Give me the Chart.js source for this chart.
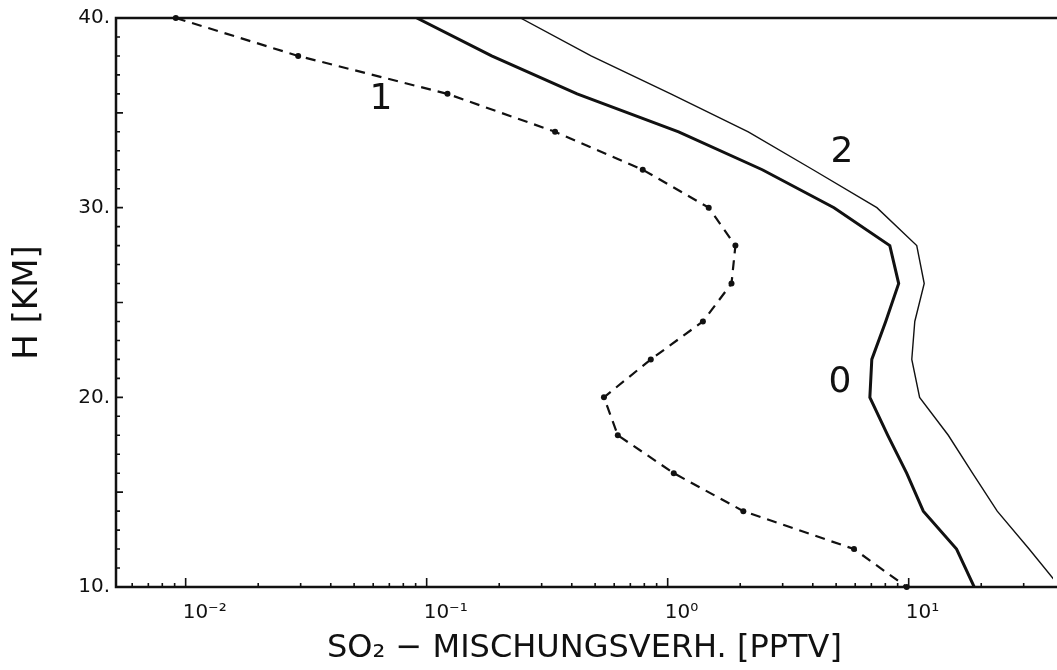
<!DOCTYPE html>
<html>
<head>
<meta charset="utf-8">
<script src="https://cdn.jsdelivr.net/npm/chart.js@4.4.1/dist/chart.umd.min.js"></script>
<style>
  html, body { margin: 0; padding: 0; background: #fff; overflow: hidden; }
</style>
</head>
<body>
<canvas id="so2Chart" width="1057" height="670"></canvas>
<script>
// ── DATA ──
// altitude levels [km], shared by all three profiles
const heights = [40, 38, 36, 34, 32, 30, 28, 26, 24, 22, 20, 18, 16, 14, 12, 10];
// SO2 mixing ratio [pptv]
const so2Curve0 = [0.091, 0.186, 0.421, 1.11, 2.47, 4.90, 8.35, 9.09, 8.03, 7.03, 6.90, 8.19, 9.81, 11.5, 15.8, 18.7];
const so2Curve1 = [0.0091, 0.0293, 0.122, 0.341, 0.788, 1.48, 1.91, 1.84, 1.40, 0.851, 0.544, 0.621, 1.06, 2.06, 5.93, 9.81];
const so2Curve2 = [0.245, 0.481, 1.03, 2.16, 4.01, 7.38, 10.8, 11.6, 10.6, 10.3, 11.1, 14.6, 18.4, 23.3, 31.6, 42.5];

const xTickValues = [0.01, 0.1, 1, 10];
const xTickLabels = ['10⁻²', '10⁻¹', '10⁰', '10¹'];
const yTickValues = [10, 20, 30, 40];
const yTickLabels = ['10.', '20.', '30.', '40.'];

// curve numbers written into the plot
const curveLabels = ['0', '1', '2'];
const curveLabelX = [5.19, 0.0646, 5.29];
const curveLabelH = [20.8, 35.7, 32.9];

const X_MIN = 0.00514;
const X_MAX = 39.7;
const H_MIN = 10;
const H_MAX = 40;

const INK = '#111';
const FONT = '"DejaVu Sans", "Liberation Sans", sans-serif';

function toPoints(values) {
  return values.map((v, i) => ({ x: v, y: heights[i] }));
}

// ── FRAME, INWARD TICKS, CURVE NUMBERS ──
const frameAndTicks = {
  id: 'frameAndTicks',
  afterDatasetsDraw(chart) {
    const { ctx, chartArea: a, scales: { x, y } } = chart;
    ctx.save();
    ctx.strokeStyle = INK;
    ctx.lineWidth = 2.5;
    ctx.beginPath();
    ctx.moveTo(a.right + 4, a.top);
    ctx.lineTo(a.left, a.top);
    ctx.lineTo(a.left, a.bottom);
    ctx.lineTo(a.right + 4, a.bottom);
    ctx.stroke();

    ctx.lineWidth = 1.6;
    ctx.beginPath();
    for (let h = Math.ceil(y.min); h <= y.max; h++) {
      const py = y.getPixelForValue(h);
      const len = h % 5 === 0 ? 7 : 4;
      ctx.moveTo(a.left, py);
      ctx.lineTo(a.left + len, py);
    }
    const e0 = Math.floor(Math.log10(x.min));
    const e1 = Math.ceil(Math.log10(x.max));
    for (let e = e0; e <= e1; e++) {
      for (let m = 1; m < 10; m++) {
        const v = m * Math.pow(10, e);
        if (v <= x.min || v >= x.max) continue;
        const px = x.getPixelForValue(v);
        const len = m === 1 ? 9 : 4;
        ctx.moveTo(px, a.bottom);
        ctx.lineTo(px, a.bottom - len);
      }
    }
    ctx.stroke();

    ctx.fillStyle = INK;
    ctx.font = '36px ' + FONT;
    ctx.textAlign = 'center';
    ctx.textBaseline = 'middle';
    curveLabels.forEach((t, i) => {
      ctx.fillText(t, x.getPixelForValue(curveLabelX[i]), y.getPixelForValue(curveLabelH[i]));
    });
    ctx.restore();
  }
};

new Chart(document.getElementById('so2Chart'), {
  type: 'line',
  data: {
    datasets: [
      { label: '0', data: toPoints(so2Curve0), borderColor: INK, borderWidth: 3, pointRadius: 0, tension: 0 },
      { label: '1', data: toPoints(so2Curve1), borderColor: INK, borderWidth: 2.2, borderDash: [10, 7],
        pointRadius: 3, pointBackgroundColor: INK, pointBorderWidth: 0, tension: 0, clip: 6 },
      { label: '2', data: toPoints(so2Curve2), borderColor: INK, borderWidth: 1.4, pointRadius: 0, tension: 0 },
    ],
  },
  options: {
    responsive: false,
    animation: false,
    layout: { padding: { top: 15, right: -4, bottom: 0, left: 0 } },
    plugins: { legend: { display: false }, tooltip: { enabled: false } },
    scales: {
      x: {
        type: 'logarithmic',
        min: X_MIN,
        max: X_MAX,
        afterBuildTicks: s => { s.ticks = xTickValues.map(v => ({ value: v })); },
        afterFit: s => { s.height = 83; },
        grid: { display: false, drawTicks: false },
        border: { display: false },
        ticks: {
          callback: v => xTickLabels[xTickValues.indexOf(v)],
          align: 'start', labelOffset: -3, padding: 14,
          maxRotation: 0, autoSkip: false, color: INK,
          font: { family: FONT, size: 20 },
        },
        title: {
          display: true, text: 'SO₂ − MISCHUNGSVERH. [PPTV]', color: INK,
          font: { family: FONT, size: 32 }, padding: { top: 0, bottom: 2 },
        },
      },
      y: {
        type: 'linear',
        min: H_MIN,
        max: H_MAX,
        afterBuildTicks: s => { s.ticks = yTickValues.map(v => ({ value: v })); },
        afterFit: s => { s.width = 116; },
        grid: { display: false, drawTicks: false },
        border: { display: false },
        ticks: {
          callback: v => yTickLabels[yTickValues.indexOf(v)],
          padding: 6, color: INK,
          font: { family: FONT, size: 20 },
        },
        title: {
          display: true, text: 'H [KM]', color: INK,
          font: { family: FONT, size: 34 }, padding: { top: 8, bottom: 0 },
        },
      },
    },
  },
  plugins: [frameAndTicks],
});
</script>
</body>
</html>
